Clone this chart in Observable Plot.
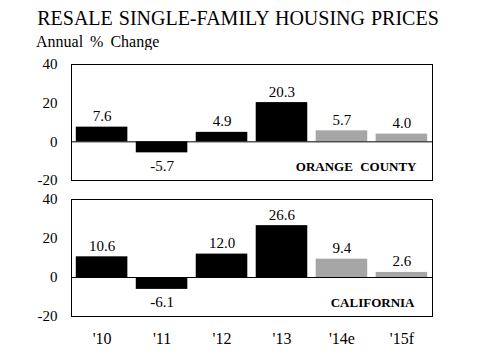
<!DOCTYPE html>
<html>
<head>
<meta charset="utf-8">
<script src="https://cdn.jsdelivr.net/npm/d3@7"></script>
<script src="https://cdn.jsdelivr.net/npm/@observablehq/plot@0.6"></script>
<style>
  html, body { margin: 0; padding: 0; background: #fff; }
  #wrap { position: relative; width: 480px; height: 360px; font-family: "Liberation Serif", "Times New Roman", serif; color: #000; }
  #title { position: absolute; left: 0; width: 476px; top: 6px; text-align: center; font-size: 20px; word-spacing: 1px; white-space: nowrap; line-height: 24px; }
  #subtitle { position: absolute; left: 36px; top: 32px; font-size: 16px; word-spacing: 3px; white-space: nowrap; line-height: 20px; }
  .panel { position: absolute; left: 0; width: 480px; }
  .panel svg, .panel svg text { font-family: "Liberation Serif", "Times New Roman", serif !important; }
</style>
</head>
<body>
<div id="wrap">
  <div id="title">RESALE SINGLE-FAMILY HOUSING PRICES</div>
  <div id="subtitle">Annual % Change</div>
  <div class="panel" id="p1" style="top:50px"></div>
  <div class="panel" id="p2" style="top:190px"></div>
</div>
<script>
const years = ["'10", "'11", "'12", "'13", "'14e", "'15f"];
const kinds = ["actual", "actual", "actual", "actual", "estimate", "forecast"];
const orangeCounty = [7.6, -5.7, 4.9, 20.3, 5.7, 4.0];
const california = [10.6, -6.1, 12.0, 26.6, 9.4, 2.6];
const yTicks = [-20, 0, 20, 40];
const panelNames = ["ORANGE COUNTY", "CALIFORNIA"];

const SERIF = "'Liberation Serif', 'Times New Roman', serif";

function panel(values, name, opts) {
  const data = years.map((y, i) => ({year: y, value: values[i], kind: kinds[i]}));
  const svg = Plot.plot({
    width: 480,
    height: opts.height,
    marginLeft: 71,
    marginRight: 48,
    marginTop: opts.marginTop,
    marginBottom: opts.marginBottom,
    style: `font-family: ${SERIF}; font-size: 15px; background: white; color: black;`,
    x: {domain: years, paddingInner: 0.14, paddingOuter: 0.08, round: false, axis: opts.showX ? "bottom" : null, tickSize: 0, tickPadding: 16, label: null},
    y: {domain: [-20, 40], ticks: yTicks, tickSize: 0, tickPadding: 14, label: null, tickFormat: d => String(d)},
    marks: [
      Plot.barY(data, {x: "year", y: "value", fill: d => d.kind === "actual" ? "black" : "#a6a6a6"}),
      Plot.ruleY([0], {stroke: "black", strokeWidth: 1}),
      Plot.text(data.filter(d => d.value >= 0), {x: "year", y: "value", text: d => d.value.toFixed(1), lineAnchor: "bottom", dy: -6, fontSize: 15}),
      Plot.text(data.filter(d => d.value < 0), {x: "year", y: "value", text: d => d.value.toFixed(1), lineAnchor: "top", dy: 7, fontSize: 15}),
      Plot.text([name], {frameAnchor: "bottom-right", dx: opts.labelDx, dy: -10, fontWeight: "bold", fontSize: 13}),
      Plot.frame({stroke: "black", strokeWidth: 1})
    ]
  });
  svg.setAttribute("font-family", SERIF);
  svg.querySelectorAll("text").forEach(t => {
    t.setAttribute("font-family", SERIF);
    if (/[A-Z]{3}/.test(t.textContent)) t.style.wordSpacing = "4px";
  });
  return svg;
}

const c1 = panel(orangeCounty, panelNames[0], {height: 140, marginTop: 14, marginBottom: 10, showX: false, labelDx: -16});
const c2 = panel(california, panelNames[1], {height: 170, marginTop: 9, marginBottom: 44, showX: true, labelDx: -18});
c2.querySelectorAll("g[aria-label='x-axis tick label'] text").forEach(t => t.setAttribute("font-size", "16"));
document.getElementById("p1").appendChild(c1);
document.getElementById("p2").appendChild(c2);
</script>
</body>
</html>
